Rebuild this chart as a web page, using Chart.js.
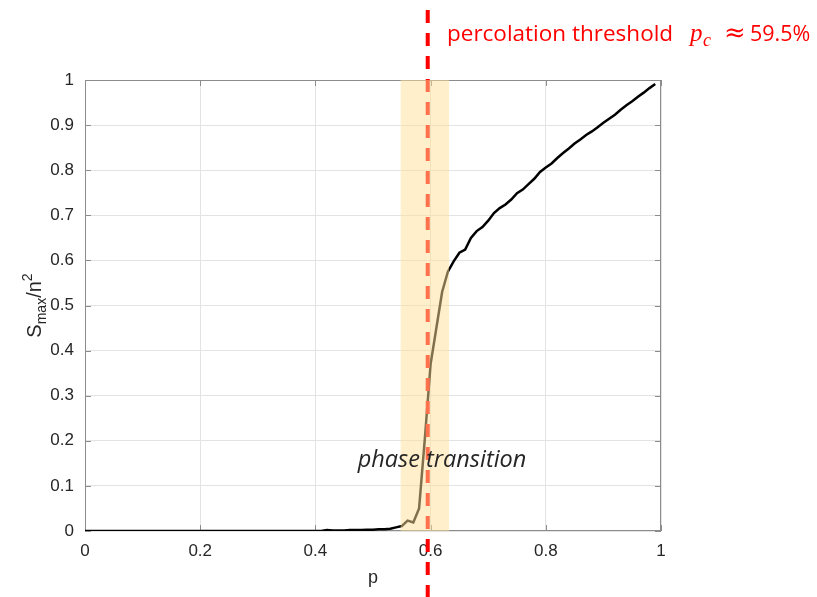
<!DOCTYPE html>
<html>
<head>
<meta charset="utf-8">
<script src="https://cdn.jsdelivr.net/npm/chart.js@4"></script>
<style>
  html, body { margin: 0; padding: 0; background: #fff; }
  canvas { display: block; }
</style>
</head>
<body>
<canvas id="chart" width="817" height="597"></canvas>
<script>
// occupation probability p (step 0.01)
const pGrid = [
  0.00, 0.01, 0.02, 0.03, 0.04, 0.05, 0.06, 0.07, 0.08, 0.09,
  0.10, 0.11, 0.12, 0.13, 0.14, 0.15, 0.16, 0.17, 0.18, 0.19,
  0.20, 0.21, 0.22, 0.23, 0.24, 0.25, 0.26, 0.27, 0.28, 0.29,
  0.30, 0.31, 0.32, 0.33, 0.34, 0.35, 0.36, 0.37, 0.38, 0.39,
  0.40, 0.41, 0.42, 0.43, 0.44, 0.45, 0.46, 0.47, 0.48, 0.49,
  0.50, 0.51, 0.52, 0.53, 0.54, 0.55, 0.56, 0.57, 0.58, 0.59,
  0.60, 0.61, 0.62, 0.63, 0.64, 0.65, 0.66, 0.67, 0.68, 0.69,
  0.70, 0.71, 0.72, 0.73, 0.74, 0.75, 0.76, 0.77, 0.78, 0.79,
  0.80, 0.81, 0.82, 0.83, 0.84, 0.85, 0.86, 0.87, 0.88, 0.89,
  0.90, 0.91, 0.92, 0.93, 0.94, 0.95, 0.96, 0.97, 0.98, 0.99
];

// largest cluster size divided by n^2
const largestCluster = [
  0, 0, 0, 0, 0, 0, 0, 0, 0, 0,
  0, 0, 0, 0, 0, 0, 0, 0, 0, 0,
  0, 0, 0, 0, 0, 0, 0, 0, 0, 0,
  0, 0, 0, 0, 0, 0, 0, 0, 0, 0,
  0.000, 0.000, 0.002, 0.001, 0.001, 0.001, 0.002, 0.002, 0.002, 0.003,
  0.003, 0.004, 0.004, 0.005, 0.008, 0.011, 0.023, 0.019, 0.050, 0.205,
  0.370, 0.450, 0.530, 0.575, 0.598, 0.617, 0.624, 0.650, 0.665, 0.674,
  0.688, 0.705, 0.716, 0.724, 0.735, 0.749, 0.757, 0.769, 0.781, 0.796,
  0.806, 0.815, 0.827, 0.838, 0.848, 0.859, 0.868, 0.878, 0.886, 0.895,
  0.905, 0.914, 0.923, 0.934, 0.944, 0.953, 0.963, 0.972, 0.982, 0.991
];

const xTicks = [0, 0.2, 0.4, 0.6, 0.8, 1];
const yTicks = [0, 0.1, 0.2, 0.3, 0.4, 0.5, 0.6, 0.7, 0.8, 0.9, 1];

const threshold = 0.595;
const transitionBand = [0.548, 0.632];

const AXIS_COLOR = "#8c8c8c";
const TEXT_COLOR = "#262626";
const TICK_FONT = "Liberation Sans";

const annotations = {
  id: "annotations",
  beforeDatasetsDraw(chart) {
    const { ctx, chartArea: a, scales: { x, y } } = chart;
    ctx.save();
    ctx.strokeStyle = AXIS_COLOR;
    ctx.lineWidth = 1;
    ctx.strokeRect(a.left + 0.5, a.top + 0.5, a.width - 1, a.height - 1);
    // inward tick marks on all four sides
    ctx.beginPath();
    for (const t of xTicks) {
      const px = Math.round(x.getPixelForValue(t)) + 0.5;
      ctx.moveTo(px, a.bottom); ctx.lineTo(px, a.bottom - 6);
      ctx.moveTo(px, a.top); ctx.lineTo(px, a.top + 6);
    }
    for (const t of yTicks) {
      const py = Math.round(y.getPixelForValue(t)) + 0.5;
      ctx.moveTo(a.left, py); ctx.lineTo(a.left + 6, py);
      ctx.moveTo(a.right, py); ctx.lineTo(a.right - 6, py);
    }
    ctx.stroke();
    ctx.restore();
  },
  afterDatasetsDraw(chart) {
    const { ctx, chartArea: a, scales: { x, y } } = chart;
    ctx.save();

    // threshold line runs the full height of the canvas
    const tx = x.getPixelForValue(threshold);
    ctx.strokeStyle = "#ff0000";
    ctx.lineWidth = 4;
    ctx.setLineDash([13, 10]);
    ctx.lineDashOffset = -10;
    ctx.beginPath();
    ctx.moveTo(tx, 0);
    ctx.lineTo(tx, chart.height);
    ctx.stroke();
    ctx.setLineDash([]);

    // translucent band over the transition region
    const b0 = x.getPixelForValue(transitionBand[0]);
    const b1 = x.getPixelForValue(transitionBand[1]);
    ctx.fillStyle = "rgba(255, 224, 152, 0.5)";
    ctx.fillRect(b0, a.top, b1 - b0, a.height);

    // phase transition label
    ctx.fillStyle = "#262626";
    ctx.font = "italic 23.5px 'Open Sans'";
    ctx.textAlign = "center";
    ctx.textBaseline = "alphabetic";
    ctx.fillText("phase transition", 442, 467);

    // threshold caption
    ctx.fillStyle = "#ff0000";
    ctx.textAlign = "left";
    ctx.font = "22.5px 'Open Sans'";
    ctx.fillText("percolation threshold", 447, 41);
    ctx.font = "italic 25px 'Liberation Serif'";
    ctx.fillText("p", 690, 41);
    ctx.font = "italic 18px 'Liberation Serif'";
    ctx.fillText("c", 703, 46);
    ctx.font = "26px 'DejaVu Serif'";
    ctx.fillText("\u2248", 724, 41);
    ctx.font = "21.5px 'Open Sans'";
    ctx.fillText("59.5%", 750, 41);

    // x axis title
    ctx.fillStyle = TEXT_COLOR;
    ctx.textAlign = "center";
    ctx.font = `18px '${TICK_FONT}'`;
    ctx.fillText("p", (a.left + a.right) / 2, 583);

    // y axis title with subscript and superscript
    ctx.translate(41, (a.top + a.bottom) / 2);
    ctx.rotate(-Math.PI / 2);
    const big = `20px '${TICK_FONT}'`;
    const small = `14px '${TICK_FONT}'`;
    const parts = [
      { t: "S", f: big, dy: 0 },
      { t: "max", f: small, dy: 5 },
      { t: "/n", f: big, dy: 0 },
      { t: "2", f: small, dy: -9 }
    ];
    let total = 0;
    for (const p of parts) { ctx.font = p.f; p.w = ctx.measureText(p.t).width; total += p.w; }
    let cx = -total / 2;
    ctx.textAlign = "left";
    for (const p of parts) {
      ctx.font = p.f;
      ctx.fillText(p.t, cx, p.dy);
      cx += p.w;
    }
    ctx.restore();
  }
};

const fmt = (v) => String(Math.round(v * 10) / 10);

new Chart(document.getElementById("chart"), {
  type: "line",
  data: {
    datasets: [{
      data: pGrid.map((p, i) => ({ x: p, y: largestCluster[i] })),
      borderColor: "#000000",
      borderWidth: 2.5,
      pointRadius: 0,
      tension: 0,
      fill: false
    }]
  },
  options: {
    responsive: false,
    animation: false,
    devicePixelRatio: 1,
    layout: { padding: { top: 80, right: 156, left: 0, bottom: 0 } },
    plugins: { legend: { display: false }, tooltip: { enabled: false } },
    scales: {
      x: {
        type: "linear",
        min: 0, max: 1,
        afterFit: (s) => { s.height = 66; },
        afterBuildTicks: (s) => { s.ticks = xTicks.map((v) => ({ value: v })); },
        grid: { color: "#e3e3e3", drawTicks: false },
        border: { display: false },
        ticks: {
          padding: 10,
          color: TEXT_COLOR,
          font: { family: TICK_FONT, size: 17 },
          callback: fmt,
          maxRotation: 0
        }
      },
      y: {
        min: 0, max: 1,
        afterFit: (s) => { s.width = 85; },
        afterBuildTicks: (s) => { s.ticks = yTicks.map((v) => ({ value: v })); },
        grid: { color: "#e3e3e3", drawTicks: false },
        border: { display: false },
        ticks: {
          padding: 11,
          color: TEXT_COLOR,
          font: { family: TICK_FONT, size: 17 },
          callback: fmt
        }
      }
    }
  },
  plugins: [annotations]
});
</script>
</body>
</html>
